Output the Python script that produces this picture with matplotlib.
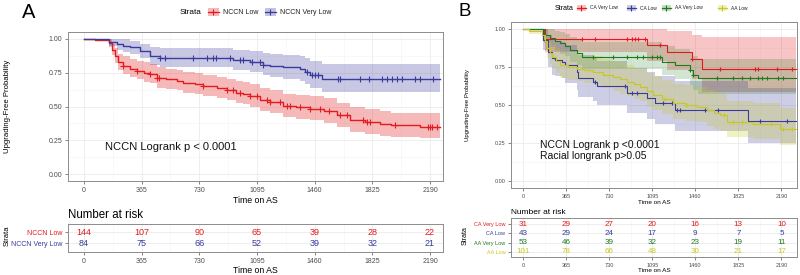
import matplotlib
matplotlib.use("Agg")
import matplotlib.pyplot as plt
import numpy as np
from matplotlib.patches import Rectangle
from matplotlib.lines import Line2D

plt.rcParams["font.family"] = ["Liberation Sans", "DejaVu Sans"]

# ---------------- data: panel A ----------------
a_names = ["NCCN Low", "NCCN Very Low"]
a_colors = ["#E41A1C", "#3B3B9E"]

a_low_t = [0, 70, 158, 175, 195, 215, 247, 290, 335, 380, 418, 462, 520, 588, 627, 700, 753, 842,
           905, 960, 1006, 1050, 1114, 1177, 1260, 1340, 1430, 1520, 1600, 1684, 1780, 1873, 1940, 2126, 2253]
a_low_s = [1.0, 0.993, 0.97, 0.92, 0.87, 0.83, 0.80, 0.78, 0.765, 0.75, 0.74, 0.71, 0.70, 0.69, 0.675, 0.665,
           0.655, 0.64, 0.62, 0.60, 0.595, 0.575, 0.55, 0.535, 0.507, 0.495, 0.483, 0.465, 0.434, 0.397,
           0.385, 0.368, 0.36, 0.348, 0.348]
a_low_lo = [1.0, 0.98, 0.94, 0.88, 0.82, 0.77, 0.74, 0.72, 0.70, 0.68, 0.67, 0.64, 0.63, 0.62, 0.60, 0.59,
            0.58, 0.565, 0.545, 0.525, 0.515, 0.495, 0.47, 0.455, 0.425, 0.41, 0.40, 0.38, 0.35, 0.315,
            0.30, 0.285, 0.275, 0.265, 0.265]
a_low_hi = [1.0, 1.0, 0.995, 0.96, 0.93, 0.89, 0.87, 0.85, 0.835, 0.825, 0.815, 0.79, 0.78, 0.77, 0.755, 0.745,
            0.735, 0.72, 0.705, 0.685, 0.68, 0.665, 0.64, 0.625, 0.595, 0.585, 0.575, 0.56, 0.525, 0.495,
            0.48, 0.465, 0.455, 0.45, 0.45]
a_low_cens = [247, 335, 418, 462, 475, 753, 905, 943, 987, 1050, 1095, 1158, 1177, 1240, 1285, 1304, 1367,
              1430, 1494, 1550, 1620, 1663, 1766, 1790, 1810, 1968, 2177, 2190, 2203, 2234]

a_vlow_t = [0, 158, 208, 250, 291, 354, 418, 481, 943, 1050, 1133, 1177, 1260, 1367, 1399, 1430, 1506, 2253]
a_vlow_s = [1.0, 0.976, 0.96, 0.948, 0.936, 0.91, 0.875, 0.86, 0.845, 0.83, 0.81, 0.80, 0.79, 0.777,
            0.755, 0.73, 0.70, 0.70]
a_vlow_lo = [1.0, 0.945, 0.92, 0.905, 0.89, 0.855, 0.81, 0.795, 0.77, 0.755, 0.73, 0.715, 0.705, 0.69,
             0.665, 0.635, 0.605, 0.605]
a_vlow_hi = [1.0, 1.0, 1.0, 0.995, 0.985, 0.965, 0.94, 0.93, 0.92, 0.91, 0.895, 0.885, 0.88, 0.87,
             0.855, 0.835, 0.815, 0.815]
a_vlow_cens = [481, 512, 690, 778, 817, 837, 924, 987, 1006, 1066, 1114, 1133, 1411, 1443, 1462, 1481,
               1608, 1620, 1747, 1804, 1886, 1918, 1949, 1981, 2013, 2095, 2127, 2209]

a_risk_times = [0, 365, 730, 1095, 1460, 1825, 2190]
a_risk = [[144, 107, 90, 65, 39, 28, 22],
          [84, 75, 66, 52, 39, 32, 21]]

# ---------------- data: panel B ----------------
b_names = ["CA Very Low", "CA Low", "AA Very Low", "AA Low"]
b_colors = ["#E31A1C", "#3B3B9B", "#1F7A1F", "#C8C81E"]

b_cavl_t = [0, 186, 1050, 1220, 1432, 1517, 2310]
b_cavl_s = [1.0, 0.935, 0.895, 0.847, 0.80, 0.74, 0.74]
b_cavl_lo = [1.0, 0.85, 0.79, 0.73, 0.67, 0.585, 0.585]
b_cavl_hi = [1.0, 1.0, 1.0, 0.99, 0.96, 0.95, 0.95]
b_cavl_cens = [500, 610, 881, 924, 949, 975, 1034, 1161, 1432, 1669, 1966, 1992, 2152, 2280]

b_cal_t = [0, 170, 212, 246, 271, 330, 356, 457, 466, 593, 627, 881, 1050, 1119, 1288, 1907, 2310]
b_cal_s = [1.0, 0.93, 0.85, 0.807, 0.796, 0.785, 0.76, 0.72, 0.675, 0.653, 0.627, 0.577, 0.544, 0.511,
           0.467, 0.397, 0.397]
b_cal_lo = [1.0, 0.86, 0.75, 0.70, 0.69, 0.675, 0.645, 0.60, 0.55, 0.525, 0.50, 0.445, 0.41, 0.375,
            0.33, 0.25, 0.25]
b_cal_hi = [1.0, 1.0, 0.96, 0.93, 0.92, 0.915, 0.895, 0.86, 0.83, 0.81, 0.79, 0.745, 0.715, 0.69,
            0.655, 0.61, 0.61]
b_cal_cens = [610, 864, 924, 966, 1186, 1263, 1305, 1330, 1542, 1652, 2008, 2237]

b_aavl_t = [0, 175, 229, 270, 313, 356, 398, 457, 500, 1178, 1288, 1415, 1441, 1483, 2310]
b_aavl_s = [1.0, 0.96, 0.94, 0.92, 0.905, 0.89, 0.862, 0.84, 0.818, 0.785, 0.763, 0.73, 0.70, 0.675, 0.675]
b_aavl_lo = [1.0, 0.91, 0.88, 0.855, 0.835, 0.82, 0.785, 0.76, 0.735, 0.695, 0.67, 0.63, 0.60, 0.57, 0.57]
b_aavl_hi = [1.0, 1.0, 1.0, 0.99, 0.98, 0.97, 0.95, 0.93, 0.915, 0.885, 0.87, 0.845, 0.82, 0.80, 0.80]
b_aavl_cens = [593, 763, 881, 966, 1017, 1093, 1136, 1161, 1415, 1441, 1644, 1780, 1856, 1924, 1992,
               2025, 2068, 2161, 2203]

b_aal_t = [0, 50, 161, 185, 203, 225, 246, 280, 313, 380, 457, 520, 593, 680, 763, 820, 881, 940, 992,
           1050, 1102, 1180, 1271, 1380, 1475, 1559, 1620, 1669, 1729, 1949, 2178, 2310]
b_aal_s = [1.0, 0.99, 0.96, 0.92, 0.873, 0.84, 0.818, 0.79, 0.763, 0.75, 0.74, 0.73, 0.72, 0.70, 0.686,
           0.67, 0.653, 0.635, 0.62, 0.59, 0.566, 0.54, 0.511, 0.50, 0.489, 0.467, 0.45, 0.434, 0.39,
           0.375, 0.34, 0.34]
b_aal_lo = [1.0, 0.97, 0.92, 0.87, 0.81, 0.77, 0.745, 0.71, 0.68, 0.665, 0.655, 0.645, 0.63, 0.61, 0.595,
            0.575, 0.56, 0.54, 0.525, 0.49, 0.465, 0.44, 0.41, 0.395, 0.385, 0.36, 0.345, 0.33, 0.29,
            0.275, 0.24, 0.24]
b_aal_hi = [1.0, 1.0, 1.0, 0.97, 0.94, 0.915, 0.895, 0.875, 0.855, 0.845, 0.835, 0.825, 0.82, 0.80, 0.79,
            0.78, 0.765, 0.745, 0.735, 0.71, 0.69, 0.665, 0.635, 0.63, 0.62, 0.60, 0.585, 0.57, 0.525,
            0.51, 0.48, 0.48]
b_aal_cens = [1205, 1380, 1700, 1780, 1860, 2100, 2200, 2280]

b_risk_times = [0, 365, 730, 1095, 1460, 1825, 2190]
b_risk = [[31, 29, 27, 20, 16, 13, 10],
          [43, 29, 24, 17, 9, 7, 5],
          [53, 46, 39, 32, 23, 19, 11],
          [101, 78, 66, 48, 30, 21, 17]]

xticks = [0, 365, 730, 1095, 1460, 1825, 2190]
yticks = [0.0, 0.25, 0.5, 0.75, 1.0]

GRID = "#EBEBEB"
TICKC = "#4D4D4D"
SPINE = "#8C8C8C"

fig = plt.figure(figsize=(8, 2.75), dpi=100)


def px(x, y, w, h):
    return [x / 800, 1 - (y + h) / 275, w / 800, h / 275]


def ftext(x, y, s, **kw):
    # text placed in picture pixels (from top-left)
    return fig.text(x / 800, 1 - y / 275, s, **kw)


def style(ax, fs):
    for s in ax.spines.values():
        s.set_color(SPINE)
        s.set_linewidth(0.7)
    ax.set_axisbelow(True)
    ax.grid(True, which="major", color=GRID, lw=0.6)
    ax.grid(True, which="minor", color="#F4F4F4", lw=0.4)
    ax.tick_params(which="major", length=2, width=0.5, color="#555555", labelsize=fs,
                   labelcolor=TICKC, pad=2)
    ax.tick_params(which="minor", length=0)


def km(ax, t, s, lo, hi, cens, color, lw, ms, alpha):
    ax.fill_between(t, lo, hi, step="post", color=color, alpha=alpha, lw=0)
    ax.step(t, s, where="post", color=color, lw=lw)
    idx = np.searchsorted(t, cens, side="right") - 1
    ax.plot(cens, np.array(s)[idx], ls="none", marker="+", color=color, ms=ms, mew=0.8)


def legend_keys(xs, texts, y, colors, fs, alpha, kw, kh, gap):
    for x, txt, c in zip(xs, texts, colors):
        fig.add_artist(Rectangle(((x - kw / 2) / 800, 1 - (y + kh / 2) / 275), kw / 800, kh / 275,
                                 transform=fig.transFigure, color=c, alpha=alpha, lw=0))
        fig.add_artist(Line2D([(x - kw / 2) / 800, (x + kw / 2) / 800], [1 - y / 275] * 2,
                              transform=fig.transFigure, color=c, lw=0.9))
        fig.add_artist(Line2D([x / 800], [1 - y / 275], transform=fig.transFigure, color=c,
                              marker="+", ms=4, mew=0.8))
        ftext(x + gap, y, txt, fontsize=fs, va="center", color="#222222")


# ---------------- panel A ----------------
axA = fig.add_axes(px(68, 32, 375, 149))
km(axA, a_low_t, a_low_s, a_low_lo, a_low_hi, a_low_cens, a_colors[0], 1.0, 4, 0.3)
km(axA, a_vlow_t, a_vlow_s, a_vlow_lo, a_vlow_hi, a_vlow_cens, a_colors[1], 1.0, 4, 0.28)
axA.set_xlim(-101, 2272)
axA.set_ylim(-0.05, 1.05)
axA.set_xticks(xticks)
axA.set_xticks([182.5 + 365 * i for i in range(6)], minor=True)
axA.set_yticks(yticks)
axA.set_yticklabels(["0.00", "0.25", "0.50", "0.75", "1.00"])
axA.set_yticks([0.125, 0.375, 0.625, 0.875], minor=True)
style(axA, 5)
axA.set_xlabel("Time on AS", fontsize=6.3, labelpad=1.5)
ftext(8, 106, "Upgrading-Free Probability", fontsize=5.6, rotation=90, ha="center", va="center")
axA.text(133, 0.2, "NCCN Logrank p < 0.0001", fontsize=8, va="center", color="#111111")

axAt = fig.add_axes(px(68, 224, 375, 28))
for i, row in enumerate(a_risk):
    ypos = len(a_risk) - i
    for tt, v in zip(a_risk_times, row):
        axAt.text(tt, ypos, str(v), color=a_colors[i], fontsize=6.5, ha="center", va="center")
axAt.set_xlim(-101, 2272)
axAt.set_ylim(0.2, 2.75)
axAt.set_xticks(xticks)
axAt.set_xticks([182.5 + 365 * i for i in range(6)], minor=True)
axAt.set_yticks([2, 1])
axAt.set_yticklabels(a_names)
style(axAt, 5)
for lab, c in zip(axAt.get_yticklabels(), a_colors):
    lab.set_color(c)
axAt.set_xlabel("Time on AS", fontsize=6.3, labelpad=1)
ftext(7, 236, "Strata", fontsize=5.5, rotation=90, ha="center", va="center")
axAt.set_title("Number at risk", fontsize=8.3, loc="left", pad=4)

ftext(22, 12, "A", fontsize=14.5, va="center")
ftext(180, 12, "Strata", fontsize=5.9, va="center")
legend_keys([213, 270], a_names, 12, a_colors, 5, 0.3, 11, 7, 10)

# ---------------- panel B ----------------
axB = fig.add_axes(px(511, 22, 286, 166))
km(axB, b_cavl_t, b_cavl_s, b_cavl_lo, b_cavl_hi, b_cavl_cens, b_colors[0], 0.8, 3.5, 0.25)
km(axB, b_cal_t, b_cal_s, b_cal_lo, b_cal_hi, b_cal_cens, b_colors[1], 0.8, 3.5, 0.25)
km(axB, b_aavl_t, b_aavl_s, b_aavl_lo, b_aavl_hi, b_aavl_cens, b_colors[2], 0.8, 3.5, 0.2)
km(axB, b_aal_t, b_aal_s, b_aal_lo, b_aal_hi, b_aal_cens, b_colors[3], 0.8, 3.5, 0.25)
axB.set_xlim(-102, 2322)
axB.set_ylim(-0.046, 1.046)
axB.set_xticks(xticks)
axB.set_xticks([182.5 + 365 * i for i in range(6)], minor=True)
axB.set_yticks(yticks)
axB.set_yticklabels(["0.00", "0.25", "0.50", "0.75", "1.00"])
axB.set_yticks([0.125, 0.375, 0.625, 0.875], minor=True)
style(axB, 4)
axB.set_xlabel("Time on AS", fontsize=4.6, labelpad=1)
ftext(467, 105, "Upgrading-Free Probability", fontsize=4.3, rotation=90, ha="center", va="center")
axB.text(144, 0.237, "NCCN Logrank p <0.0001", fontsize=7.5, va="center", color="#111111")
axB.text(144, 0.164, "Racial longrank p>0.05", fontsize=7.5, va="center", color="#111111")

axBt = fig.add_axes(px(511, 218, 286, 39))
for i, row in enumerate(b_risk):
    ypos = len(b_risk) - i
    for tt, v in zip(b_risk_times, row):
        axBt.text(tt, ypos, str(v), color=b_colors[i], fontsize=5.8, ha="center", va="center")
axBt.set_xlim(-102, 2322)
axBt.set_ylim(0.45, 4.65)
axBt.set_xticks(xticks)
axBt.set_xticks([182.5 + 365 * i for i in range(6)], minor=True)
axBt.set_yticks([4, 3, 2, 1])
axBt.set_yticklabels(b_names)
style(axBt, 4)
for lab, c in zip(axBt.get_yticklabels(), b_colors):
    lab.set_color(c)
axBt.set_xlabel("Time on AS", fontsize=4.6, labelpad=0.5)
ftext(465, 236, "Strata", fontsize=5, rotation=90, ha="center", va="center")
axBt.set_title("Number at risk", fontsize=6, loc="left", pad=3)

ftext(458, 12, "B", fontsize=13.5, va="center")
ftext(555, 8, "Strata", fontsize=5, va="center")
legend_keys([581, 631, 666, 722], b_names, 8, b_colors, 3.5, 0.25, 9, 6, 9)

fig.savefig("out.png", dpi=100)
